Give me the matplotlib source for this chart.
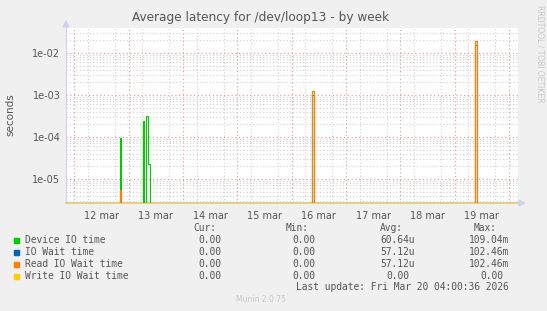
import numpy as np
import pandas as pd
import matplotlib
matplotlib.use("Agg")
import matplotlib.pyplot as plt
import matplotlib.dates as mdates
from matplotlib.ticker import LogLocator, NullFormatter

# x range of the week view
start = pd.Timestamp("2026-03-11 20:20")
end = pd.Timestamp("2026-03-20 04:00")

# non-zero 30 min samples (everything else is 0)
device_t = ["2026-03-12 20:00", "2026-03-13 06:30", "2026-03-13 07:30", "2026-03-13 08:00",
            "2026-03-13 08:30", "2026-03-13 09:00", "2026-03-16 09:00", "2026-03-16 09:30",
            "2026-03-19 09:00", "2026-03-19 09:30"]
device_v = [9.5e-5, 2.4e-4, 3.2e-4, 3.2e-4, 2.3e-5, 2.3e-5, 1.0e-3, 1.0e-3, 1.5e-2, 1.5e-2]

read_t = ["2026-03-12 20:00", "2026-03-16 09:00", "2026-03-16 09:30", "2026-03-19 09:00",
          "2026-03-19 09:30"]
read_v = [5.5e-6, 1.24e-3, 1.24e-3, 1.93e-2, 1.93e-2]
iowait_t = read_t
iowait_v = read_v
write_t = []
write_v = []

labels = ["Device IO time", "IO Wait time", "Read IO Wait time", "Write IO Wait time"]
colors = ["#00CC00", "#0066B3", "#FF8000", "#FFCC00"]
cur = ["0.00", "0.00", "0.00", "0.00"]
mins = ["0.00", "0.00", "0.00", "0.00"]
avgs = ["60.64u", "57.12u", "57.12u", "0.00 "]
maxs = ["109.04m", "102.46m", "102.46m", "0.00 "]
day_labels = ["12 mar", "13 mar", "14 mar", "15 mar", "16 mar", "17 mar", "18 mar", "19 mar"]

W, H = 547, 311


def make_series(times, values):
    # full 30 min grid with zeros, filled with the non-zero samples
    idx = pd.date_range(start.floor("30min"), end, freq="30min")
    s = pd.Series(0.0, index=idx)
    for t, v in zip(times, values):
        s[pd.Timestamp(t)] = v
    return s


fig = plt.figure(figsize=(W / 100, H / 100), dpi=100, facecolor="#F0F0F0")
ax = fig.add_axes([66 / W, 1 - 203 / H, (518 - 66) / W, (203 - 28) / H])
ax.set_facecolor("white")

ax.set_yscale("log", nonpositive="clip")
ax.set_ylim(2.68e-6, 3.9e-2)
ax.set_xlim(start, end)

# grid
ax.set_xticks([pd.Timestamp("2026-03-12 12:00") + pd.Timedelta(days=i) for i in range(len(day_labels))])
ax.set_xticklabels(day_labels)
ax.xaxis.set_minor_locator(mdates.HourLocator(byhour=[6, 12, 18]))
ax.yaxis.set_major_locator(LogLocator(base=10, numticks=10))
ax.yaxis.set_minor_locator(LogLocator(base=10, subs=np.arange(2, 10), numticks=20))
ax.yaxis.set_minor_formatter(NullFormatter())
ax.yaxis.set_major_formatter(plt.FuncFormatter(lambda v, p: "%.0e" % v))

ax.grid(False)
ax.grid(which="minor", axis="both", color="#d0d0d0", linestyle=(0, (1, 2)), linewidth=0.8)
ax.grid(which="major", axis="y", color="#e8a0a0", linestyle=(0, (1, 2)), linewidth=0.9)
for i in range(len(day_labels) + 1):
    ax.axvline(pd.Timestamp("2026-03-12") + pd.Timedelta(days=i), color="#e8a0a0",
               linestyle=(0, (1, 2)), linewidth=0.9, zorder=1)

ax.tick_params(which="both", length=0, labelsize=7, colors="#555555", pad=4)
ax.tick_params(axis="x", pad=6)

for sp in ["top", "right"]:
    ax.spines[sp].set_visible(False)
ax.spines["left"].set_color("#d0d0f0")
ax.spines["bottom"].set_color("#E6C86E")
ax.spines["bottom"].set_linewidth(1.2)

series = [(device_t, device_v), (iowait_t, iowait_v), (read_t, read_v), (write_t, write_v)]
for (t, v), c in zip(series, colors):
    s = make_series(t, v)
    ax.plot(s.index, s.values, drawstyle="steps-post", color=c, linewidth=0.8, zorder=3)

# axis arrows
fig.patches.append(plt.Polygon([[63 / W, 1 - 27 / H], [69 / W, 1 - 27 / H], [66 / W, 1 - 21 / H]],
                               closed=True, color="#d0d0f0", transform=fig.transFigure))
fig.patches.append(plt.Polygon([[519 / W, 1 - 200 / H], [519 / W, 1 - 206 / H], [525 / W, 1 - 203 / H]],
                               closed=True, color="#d0d0f0", transform=fig.transFigure))

fig.text(261 / W, 1 - 18 / H, "Average latency for /dev/loop13 - by week", ha="center", va="center",
         fontsize=8.7, color="#555555")
fig.text(10 / W, 1 - 115 / H, "seconds", rotation=90, ha="center", va="center", fontsize=7.5, color="#555555")
fig.text(540 / W, 1 - 5 / H, "RRDTOOL / TOBI OETIKER", rotation=270, ha="center", va="top",
         fontsize=5.5, color="#c8c8c8")

# legend
mono = "DejaVu Sans Mono"
fs = 6.9
cw = 5.72
hdr_y = 228
row_y = [240, 252, 264, 276]
col_end = [221.7, 315, 415, 509]
for name, x in zip(["Cur:", "Min:", "Avg:", "Max:"], [216, 309, 403, 497]):
    fig.text(x / W, 1 - hdr_y / H, name, ha="right", va="center", family=mono, fontsize=fs, color="#555555")

cols = [cur, mins, avgs, maxs]
for i, lab in enumerate(labels):
    y = 1 - row_y[i] / H
    fig.patches.append(plt.Rectangle((14 / W, y - 2.5 / H), 5 / W, 5 / H, color=colors[i],
                                     transform=fig.transFigure))
    fig.text(25 / W, y, lab, ha="left", va="center", family=mono, fontsize=fs, color="#555555")
    for col, xe in zip(cols, col_end):
        s = col[i]
        trail = len(s) - len(s.rstrip())
        fig.text((xe - trail * cw) / W, y, s.rstrip(), ha="right", va="center", family=mono,
                 fontsize=fs, color="#555555")

fig.text(509 / W, 1 - 287 / H, "Last update: Fri Mar 20 04:00:36 2026", ha="right", va="center",
         family=mono, fontsize=fs, color="#555555")
fig.text(261 / W, 1 - 300 / H, "Munin 2.0.75", ha="center", va="center", fontsize=5.5, color="#c8c8c8")

fig.savefig("out.png", dpi=100, facecolor=fig.get_facecolor())
